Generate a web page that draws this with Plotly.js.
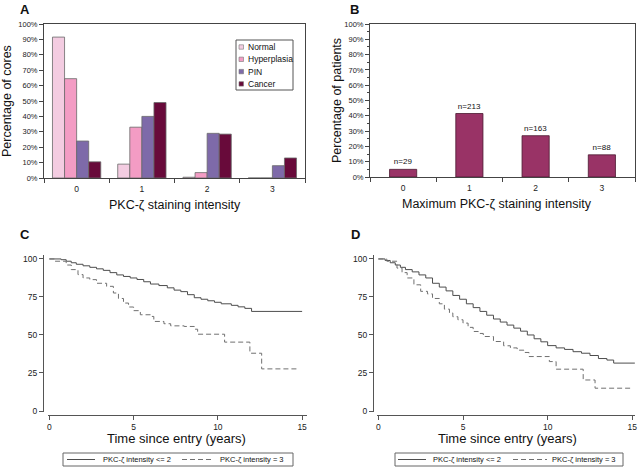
<!DOCTYPE html>
<html>
<head>
<meta charset="utf-8">
<script src="https://cdn.plot.ly/plotly-3.0.1.min.js"></script>
<style>
  html, body { margin: 0; padding: 0; background: #fff; }
  #chart { width: 640px; height: 468px; }
</style>
</head>
<body>
<div id="chart"></div>
<script>
// ---- panel A : percentage of cores per staining intensity ----
const intensity = ['0', '1', '2', '3'];
const tissueTypes = ['Normal', 'Hyperplasia', 'PIN', 'Cancer'];
const normalPct = [91.5, 9, 0.5, 0];
const hyperplasiaPct = [64.5, 33, 3.5, 0];
const pinPct = [24, 40, 29, 8];
const cancerPct = [10.5, 49, 28.5, 13];

// ---- panel B : percentage of patients per maximum intensity ----
const patientPct = [5, 41.5, 27, 14.5];
const patientN = ['n=29', 'n=213', 'n=163', 'n=88'];

// ---- panel C : survival, intensity <= 2 vs = 3 ----
const cLowYears = [0, 0.7, 1.0, 1.3, 1.6, 2.0, 2.4, 2.8, 3.2, 3.6, 4.0, 4.4, 4.8, 5.2, 5.6, 6.0, 6.5, 7.0, 7.4, 7.8, 8.2, 8.6, 9.0, 9.4, 9.8, 10.2, 10.8, 11.2, 11.6, 12.0, 15.0];
const cLowSurv  = [100, 99.5, 98.5, 97.5, 96.5, 95.5, 94.5, 93.5, 92.5, 91, 89.5, 88.5, 87.5, 86.5, 85, 83.5, 82.5, 81, 79.5, 78.5, 76.5, 74.5, 73.5, 72.5, 71.5, 70.5, 69.5, 68.5, 67.5, 65.5, 65.5];
const cHighYears = [0, 0.3, 1.0, 1.3, 1.7, 2.0, 2.4, 2.8, 3.4, 3.8, 4.1, 4.4, 4.7, 5.0, 5.4, 6.0, 6.2, 6.8, 7.2, 8.0, 8.6, 8.8, 10.4, 11.9, 12.6, 14.7];
const cHighSurv  = [100, 98.5, 96, 93, 89.7, 87.5, 86.4, 84, 82, 77.6, 74, 71, 68.4, 66, 63.3, 62.2, 58.9, 57.4, 56, 55.6, 53.8, 50.5, 45.3, 38, 27.7, 27.7];

// ---- panel D : second endpoint, same groups ----
const dLowYears = [0, 0.4, 0.7, 1.0, 1.3, 1.6, 2.0, 2.4, 2.8, 3.2, 3.6, 4.0, 4.4, 4.8, 5.2, 5.6, 6.0, 6.4, 6.8, 7.2, 7.6, 8.0, 8.4, 8.8, 9.2, 9.6, 10.0, 10.5, 11.0, 11.5, 12.0, 12.5, 13.0, 13.5, 13.9, 15.15];
const dLowSurv  = [100, 99, 97.5, 96, 94.5, 93, 91.5, 89.5, 87.5, 84, 81.5, 79, 76, 73.5, 70.5, 68, 65.5, 63, 60.5, 58.5, 56.5, 54.5, 52.5, 50, 47.5, 45.5, 43, 41.5, 40.5, 39, 38, 36.5, 34.5, 33.5, 31.5, 31.5];
const dHighYears = [0, 0.5, 1.1, 1.4, 1.7, 2.1, 2.5, 2.9, 3.2, 3.6, 3.9, 4.2, 4.4, 4.7, 5.0, 5.3, 5.6, 5.9, 6.2, 6.8, 7.4, 7.8, 8.2, 8.6, 8.9, 10.1, 10.5, 12.1, 12.8, 14.9];
const dHighSurv  = [100, 98.5, 94, 91, 87.5, 83, 78.7, 77, 74, 70.5, 67, 64.5, 62, 60, 57.8, 55, 52.3, 51, 49, 45.7, 42.9, 41.5, 40, 38.5, 35.8, 32.5, 27.5, 20.4, 15, 15];

const groupNames = ['PKC-\u03b6 intensity &lt;= 2', 'PKC-\u03b6 intensity = 3'];

// colours
const tissueColors = ['#f3cce1', '#f39cc4', '#7e6aa9', '#680a3a'];
const patientColor = '#993366';
const lowLine = { color: '#4d4d4d', width: 1 };
const highLine = { color: '#707070', width: 1, dash: '5px,3px' };

const FONT = 'Arial, Liberation Sans, Helvetica, sans-serif';
const W = 640, H = 468;
const px = x => x / W;
const py = y => 1 - y / H;

function note(text, x, y, size, extra) {
    return Object.assign({
        text: text, xref: 'paper', yref: 'paper', x: px(x), y: py(y),
        showarrow: false, xanchor: 'center', yanchor: 'middle',
        font: { family: FONT, size: size, color: '#111' }
    }, extra || {});
}

function box(x0, y0, x1, y1, color) {
    return {
        type: 'rect', xref: 'paper', yref: 'paper',
        x0: px(x0), x1: px(x1), y0: py(y1), y1: py(y0),
        line: { color: color || '#444', width: 1 }, fillcolor: 'rgba(0,0,0,0)'
    };
}

const traces = [];

// A : grouped bars
const tissueValues = [normalPct, hyperplasiaPct, pinPct, cancerPct];
tissueTypes.forEach((name, i) => {
    traces.push({
        type: 'bar', x: intensity, y: tissueValues[i], name: name,
        marker: { color: tissueColors[i], line: { color: '#6a6a6a', width: 0.8 } },
        xaxis: 'x', yaxis: 'y', showlegend: false
    });
});

// B : single bars with n labels
traces.push({
    type: 'bar', x: intensity, y: patientPct, text: patientN,
    textposition: 'outside', textfont: { family: FONT, size: 8, color: '#111' },
    width: 0.41, cliponaxis: false,
    marker: { color: patientColor, line: { color: '#4a1830', width: 0.8 } },
    xaxis: 'x2', yaxis: 'y2', showlegend: false
});

// C and D : Kaplan-Meier style step curves
[[cLowYears, cLowSurv, lowLine, 'x3', 'y3'],
 [cHighYears, cHighSurv, highLine, 'x3', 'y3'],
 [dLowYears, dLowSurv, lowLine, 'x4', 'y4'],
 [dHighYears, dHighSurv, highLine, 'x4', 'y4']].forEach(([t, s, ln, xa, ya], k) => {
    traces.push({
        type: 'scatter', mode: 'lines', x: t, y: s,
        name: groupNames[k % 2],
        line: Object.assign({ shape: 'hv' }, ln),
        xaxis: xa, yaxis: ya, showlegend: false, hoverinfo: 'x+y'
    });
});

const tickFont = { family: FONT, size: 7.5, color: '#222' };
const barX = {
    type: 'category', range: [-0.5, 3.5], tickson: 'boundaries',
    ticks: 'outside', ticklen: 4, tickcolor: '#444', ticklabelstandoff: 3,
    showline: true, linecolor: '#444', linewidth: 1, mirror: true,
    showgrid: false, zeroline: false, fixedrange: true,
    tickfont: { family: FONT, size: 8.5, color: '#222' }
};
const barY = {
    range: [0, 100], dtick: 10, ticksuffix: '%',
    ticks: 'outside', ticklen: 4, tickcolor: '#444',
    showline: true, linecolor: '#444', linewidth: 1, mirror: true,
    showgrid: false, zeroline: false, fixedrange: true,
    tickfont: tickFont
};
const kmX = {
    range: [-0.08, 15.29], tickvals: [0, 5, 10, 15],
    ticks: 'outside', ticklen: 4, tickcolor: '#555',
    showline: true, linecolor: '#555', linewidth: 1,
    showgrid: false, zeroline: false, fixedrange: true,
    anchor: 'free', position: py(415),
    tickfont: { family: FONT, size: 8.5, color: '#222' }
};
const kmY = {
    range: [-0.66, 102.6], tickvals: [0, 25, 50, 75, 100],
    ticks: 'outside', ticklen: 4, tickcolor: '#555',
    showline: true, linecolor: '#555', linewidth: 1,
    showgrid: false, zeroline: false, fixedrange: true,
    anchor: 'free', domain: [py(412), py(255)],
    tickfont: { family: FONT, size: 8.5, color: '#222' }
};

const shapes = [];
const annotations = [];

// panel letters
annotations.push(note('<b>A</b>', 25, 9, 13));
annotations.push(note('<b>B</b>', 354, 9, 13));
annotations.push(note('<b>C</b>', 25, 234, 13));
annotations.push(note('<b>D</b>', 355, 234, 13));

// axis titles
annotations.push(note('Percentage of cores', 7, 101, 12.5, { textangle: -90 }));
annotations.push(note('PKC-\u03b6 staining intensity', 175, 205, 12.5));
annotations.push(note('Percentage of patients', 337, 101, 12.5, { textangle: -90 }));
annotations.push(note('Maximum PKC-\u03b6 staining intensity', 497, 204, 12.5));
annotations.push(note('Time since entry (years)', 176, 438, 13));
annotations.push(note('Time since entry (years)', 507, 438, 13));

// legend A (drawn by hand: plotly's min row height is too tall)
shapes.push(box(236, 40, 293, 90, '#555'));
tissueTypes.forEach((name, i) => {
    const yc = 47 + i * 12.3;
    shapes.push({
        type: 'rect', xref: 'paper', yref: 'paper',
        x0: px(239), x1: px(243.5), y0: py(yc + 2.2), y1: py(yc - 2.2),
        fillcolor: tissueColors[i], line: { color: '#777', width: 0.6 }
    });
    annotations.push(note(name, 246, yc, 8.5, { xanchor: 'left' }));
});

// legends C and D
function kmLegend(x0, x1, sol0, sol1, txt1, das0, das1, txt2) {
    const yc = 459.5;
    shapes.push(box(x0, 453, x1, 466, '#666'));
    shapes.push({ type: 'line', xref: 'paper', yref: 'paper', x0: px(sol0), x1: px(sol1), y0: py(yc), y1: py(yc), line: lowLine });
    shapes.push({ type: 'line', xref: 'paper', yref: 'paper', x0: px(das0), x1: px(das1), y0: py(yc), y1: py(yc), line: highLine });
    annotations.push(note(groupNames[0], txt1, yc, 7.5, { xanchor: 'left' }));
    annotations.push(note(groupNames[1], txt2, yc, 7.5, { xanchor: 'left' }));
}
kmLegend(63, 293, 67, 95, 101, 182, 213, 218);
kmLegend(395, 623, 398, 426, 431, 513, 547, 550);

const layout = {
    width: W, height: H,
    margin: { l: 0, r: 0, t: 0, b: 0 },
    paper_bgcolor: '#fff', plot_bgcolor: 'rgba(0,0,0,0)',
    font: { family: FONT, color: '#222' },
    barmode: 'group', bargap: 0.26, bargroupgap: 0,
    showlegend: false,
    xaxis: Object.assign({}, barX, { domain: [px(44), px(305)], anchor: 'y' }),
    yaxis: Object.assign({}, barY, { domain: [py(178), py(24)], anchor: 'x' }),
    xaxis2: Object.assign({}, barX, { domain: [px(370), px(635)], anchor: 'y2' }),
    yaxis2: Object.assign({}, barY, {
        domain: [py(177), py(24)], anchor: 'x2',
        minor: { ticks: 'outside', ticklen: 2, dtick: 5, tickcolor: '#444' }
    }),
    xaxis3: Object.assign({}, kmX, { domain: [px(48), px(307)] }),
    yaxis3: Object.assign({}, kmY, { position: px(43) }),
    xaxis4: Object.assign({}, kmX, { domain: [px(377), px(635)], range: [-0.08, 15.16] }),
    yaxis4: Object.assign({}, kmY, { position: px(373) }),
    shapes: shapes,
    annotations: annotations
};

Plotly.newPlot('chart', traces, layout, { displayModeBar: false, staticPlot: true });
</script>
</body>
</html>
